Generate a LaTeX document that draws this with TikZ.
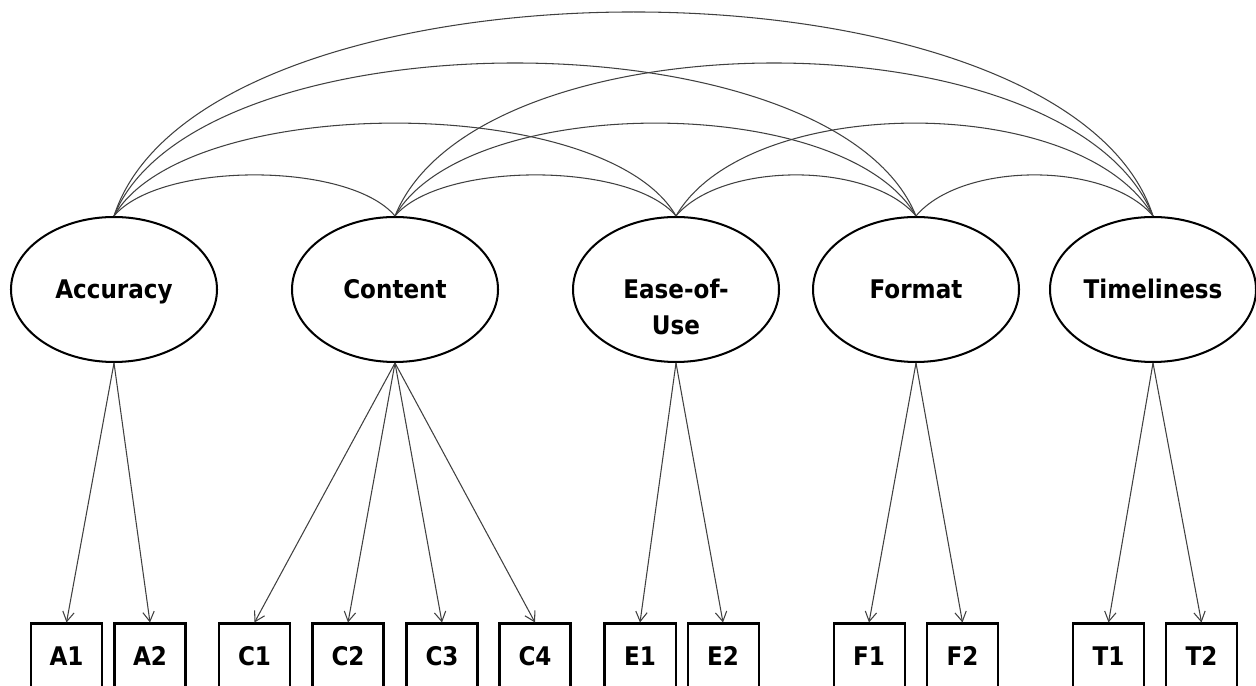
\documentclass[tikz,border=0pt]{standalone}
\usepackage{fontspec}
\newfontfamily\semfont{DejaVu Sans Condensed}[BoldFont={DejaVu Sans Condensed Bold}]
\usetikzlibrary{arrows.meta,shapes.geometric}
\tikzset{
    every node/.style={align=center,font=\semfont\bfseries\fontsize{14.6pt}{20.5pt}\selectfont,},
    latent/.style={draw,ellipse,line width=1.15pt,minimum width=4.12cm,minimum height=2.9cm,inner sep=0pt,text height=10.6pt,text depth=0pt,},
    indicator/.style={draw,rectangle,line width=1.15pt,minimum width=1.42cm,minimum height=1.3cm,inner sep=0pt,},
    load/.style={draw=black!75,line width=0.6pt,-{Straight Barb[length=5.5pt,width=6.5pt]},},
    cov/.style={draw=black!75,line width=0.6pt,},
    covshort/.style={out=50,in=130,distance=1.43cm,},
    covmid/.style={out=60,in=120,distance=2.86cm,},
    covlong/.style={out=68,in=112,distance=4.4cm,},
    covwide/.style={out=72,in=108,distance=5.72cm,},
}

\begin{document}
\begin{tikzpicture}
                \useasboundingbox (0,0) rectangle (25.12,13.72);

                \node[latent] (acc) at (2.28, 7.93) {Accuracy};
                \node[latent] (con) at (7.90, 7.93) {Content};
                \node[latent, text height=51.6pt] (eas) at (13.52, 7.93) {Ease-of-\\Use};
                \node[latent] (for) at (18.32, 7.93) {Format};
                \node[latent] (tim) at (23.06, 7.93) {Timeliness};

                \node[indicator] (a1) at (1.33, 0.60) {A1};
                \node[indicator] (a2) at (3.00, 0.60) {A2};
                \node[indicator] (c1) at (5.09, 0.60) {C1};
                \node[indicator] (c2) at (6.96, 0.60) {C2};
                \node[indicator] (c3) at (8.84, 0.60) {C3};
                \node[indicator] (c4) at (10.70, 0.60) {C4};
                \node[indicator] (e1) at (12.80, 0.60) {E1};
                \node[indicator] (e2) at (14.46, 0.60) {E2};
                \node[indicator] (f1) at (17.38, 0.60) {F1};
                \node[indicator] (f2) at (19.25, 0.60) {F2};
                \node[indicator] (t1) at (22.17, 0.60) {T1};
                \node[indicator] (t2) at (24.03, 0.60) {T2};

                % loadings
                \draw[load] (acc.south) -- (a1.north);
                \draw[load] (acc.south) -- (a2.north);
                \draw[load] (con.south) -- (c1.north);
                \draw[load] (con.south) -- (c2.north);
                \draw[load] (con.south) -- (c3.north);
                \draw[load] (con.south) -- (c4.north);
                \draw[load] (eas.south) -- (e1.north);
                \draw[load] (eas.south) -- (e2.north);
                \draw[load] (for.south) -- (f1.north);
                \draw[load] (for.south) -- (f2.north);
                \draw[load] (tim.south) -- (t1.north);
                \draw[load] (tim.south) -- (t2.north);

                % covariances
                \draw[cov] (acc.north) to[covshort] (con.north);
                \draw[cov] (con.north) to[covshort] (eas.north);
                \draw[cov] (eas.north) to[covshort] (for.north);
                \draw[cov] (for.north) to[covshort] (tim.north);
                \draw[cov] (acc.north) to[covmid] (eas.north);
                \draw[cov] (con.north) to[covmid] (for.north);
                \draw[cov] (eas.north) to[covmid] (tim.north);
                \draw[cov] (acc.north) to[covlong] (for.north);
                \draw[cov] (con.north) to[covlong] (tim.north);
                \draw[cov] (acc.north) to[covwide] (tim.north);
            \end{tikzpicture}
\end{document}
